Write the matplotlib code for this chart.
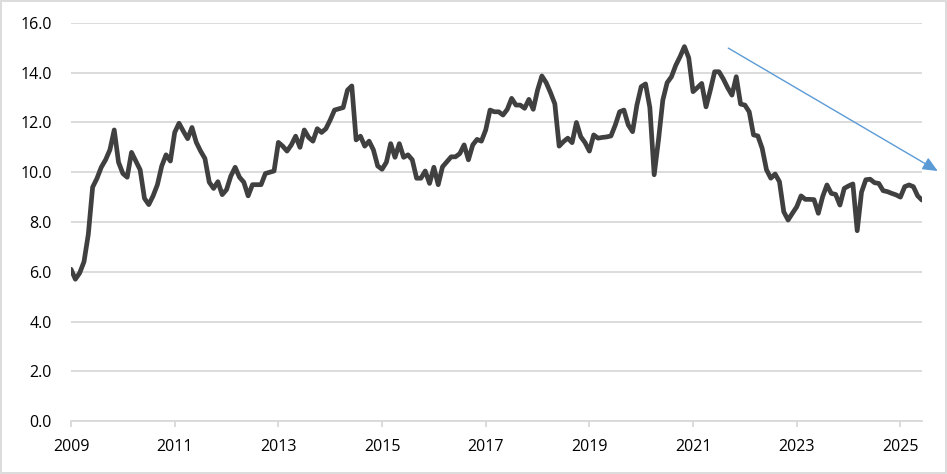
import numpy as np
import matplotlib
matplotlib.use("Agg")
import matplotlib.pyplot as plt

plt.rcParams["font.family"] = ["Open Sans", "DejaVu Sans"]

# monthly values, Jan 2009 .. Jun 2025
start_year = 2009
values = [
    6.1, 5.7, 5.95, 6.4, 7.5, 9.4, 9.75, 10.2, 10.5, 10.9, 11.7, 10.4,
    9.95, 9.8, 10.8, 10.45, 10.1, 8.95, 8.7, 9.05, 9.5, 10.25, 10.7, 10.45,
    11.6, 11.97, 11.65, 11.35, 11.8, 11.2, 10.85, 10.55, 9.6, 9.35, 9.62, 9.1,
    9.3, 9.85, 10.2, 9.8, 9.6, 9.05, 9.5, 9.5, 9.5, 9.95, 10.0, 10.05,
    11.2, 11.05, 10.85, 11.1, 11.45, 11.0, 11.7, 11.4, 11.25, 11.75, 11.6, 11.75,
    12.1, 12.5, 12.55, 12.6, 13.3, 13.47, 11.3, 11.45, 11.05, 11.25, 10.9, 10.25,
    10.12, 10.4, 11.15, 10.6, 11.15, 10.6, 10.7, 10.5, 9.76, 9.76, 10.05, 9.55,
    10.2, 9.5, 10.22, 10.42, 10.62, 10.62, 10.75, 11.1, 10.5, 11.1, 11.32, 11.25,
    11.7, 12.5, 12.43, 12.43, 12.3, 12.53, 12.97, 12.7, 12.7, 12.57, 12.93, 12.53,
    13.3, 13.87, 13.6, 13.2, 12.75, 11.05, 11.23, 11.37, 11.19, 12.0, 11.43, 11.19,
    10.85, 11.5, 11.37, 11.4, 11.42, 11.46, 11.9, 12.43, 12.5, 11.9, 11.63, 12.7,
    13.44, 13.55, 12.6, 9.9, 11.3, 12.9, 13.6, 13.84, 14.3, 14.65, 15.05, 14.6,
    13.24, 13.4, 13.57, 12.63, 13.3, 14.04, 14.04, 13.75, 13.4, 13.1, 13.84, 12.74,
    12.7, 12.43, 11.5, 11.46, 10.96, 10.1, 9.76, 9.93, 9.62, 8.41, 8.08, 8.35,
    8.61, 9.05, 8.91, 8.91, 8.9, 8.35, 9.02, 9.49, 9.15, 9.11, 8.68, 9.35,
    9.45, 9.53, 7.65, 9.2, 9.7, 9.72, 9.58, 9.55, 9.26, 9.22, 9.15, 9.09,
    9.0, 9.42, 9.49, 9.42, 9.05, 8.88,
]
x_ticks = [2009, 2011, 2013, 2015, 2017, 2019, 2021, 2023, 2025]
y_ticks = [0, 2, 4, 6, 8, 10, 12, 14, 16]

# trend arrow (start, end) in data coords
arrow_start = (2021.68, 14.99)
arrow_end = (2025.72, 10.05)

x = start_year + np.arange(len(values)) / 12.0

fig = plt.figure(figsize=(9.47, 4.74), dpi=100)
ax = fig.add_axes([0.075, 0.1118, 0.8986, 0.8397])

grid_col = "#D9D9D9"
ax.set_axisbelow(True)
ax.yaxis.grid(True, color=grid_col, linewidth=1.3)
ax.plot(x, values, color="#404040", linewidth=3.4, solid_joinstyle="round",
        solid_capstyle="round", zorder=3)

ax.annotate("", xy=arrow_end, xytext=arrow_start,
            arrowprops=dict(arrowstyle="-|>,head_length=0.9,head_width=0.4",
                            color="#5B9BD5", lw=1.0, shrinkA=0, shrinkB=0),
            annotation_clip=False, zorder=4)

ax.set_xlim(start_year, x[-1])
ax.set_ylim(0, 16)
ax.set_xticks(x_ticks)
ax.set_xticklabels([str(t) for t in x_ticks])
ax.set_yticks(y_ticks)
ax.set_yticklabels([f"{t:.1f}" for t in y_ticks])

for s in ["left", "right", "top"]:
    ax.spines[s].set_visible(False)
ax.spines["bottom"].set_color(grid_col)
ax.spines["bottom"].set_linewidth(1.3)

ax.tick_params(axis="y", length=0, pad=14, labelsize=11.5, labelcolor="#000000")
ax.tick_params(axis="x", direction="out", length=4, width=1.3, color=grid_col,
               pad=9, labelsize=11.5, labelcolor="#000000")

# outer border
fig.patches.append(plt.Rectangle((0.001, 0.002), 0.998, 0.996, transform=fig.transFigure,
                                 fill=False, edgecolor=grid_col, linewidth=1.3))

fig.savefig("out.png", dpi=100)
